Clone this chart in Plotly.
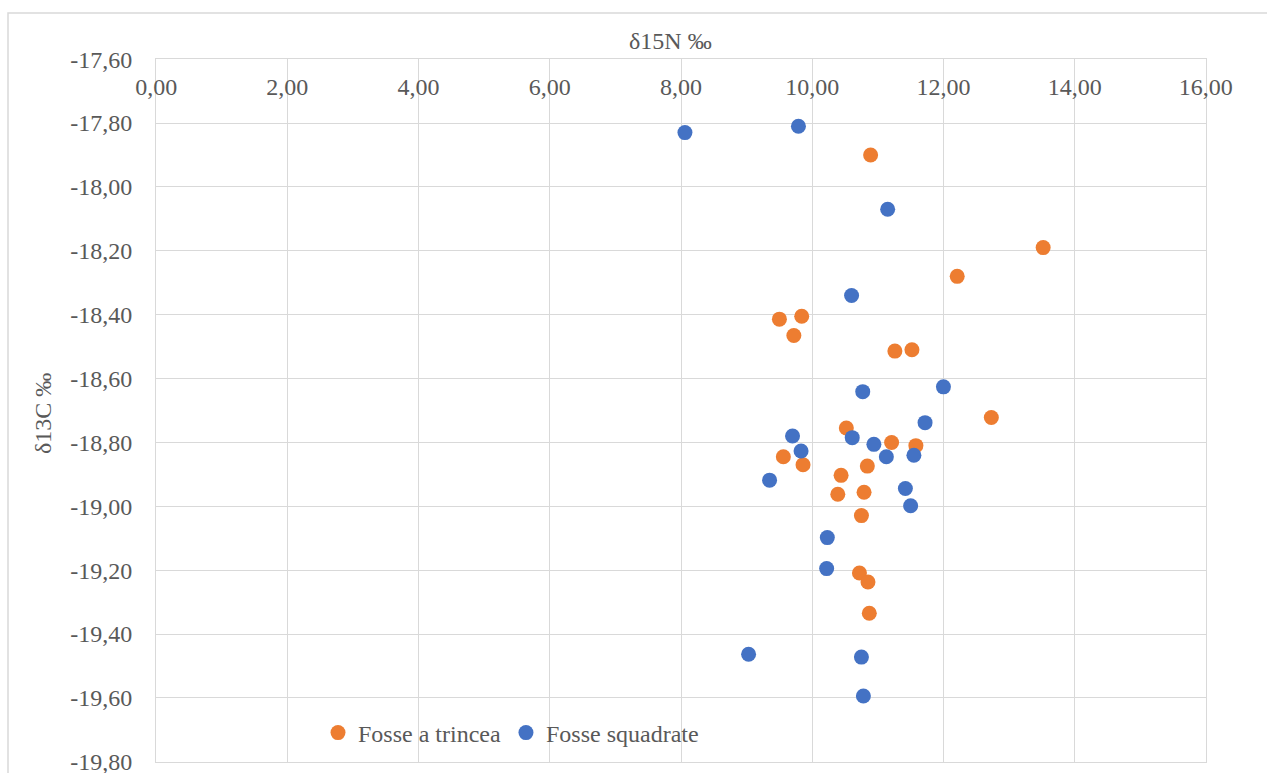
import plotly.graph_objects as go

# Fosse a trincea (orange)
trincea_n = [10.89, 13.52, 12.21, 9.50, 9.84, 9.72, 11.26, 11.52, 12.73, 10.52, 11.21,
             11.58, 9.56, 9.86, 10.84, 10.44, 10.79, 10.39, 10.75, 10.72, 10.85, 10.87]
trincea_c = [-17.90, -18.19, -18.28, -18.414, -18.405, -18.465, -18.514, -18.51, -18.722, -18.755, -18.80,
             -18.81, -18.845, -18.87, -18.874, -18.903, -18.956, -18.962, -19.029, -19.209, -19.237, -19.335]

# Fosse squadrate (blue)
squadrate_n = [8.06, 9.79, 11.15, 10.60, 12.00, 10.77, 11.72, 9.70, 10.61, 10.94, 9.83,
               11.13, 11.55, 9.35, 11.42, 11.50, 10.23, 10.22, 9.03, 10.75, 10.78]
squadrate_c = [-17.83, -17.81, -18.07, -18.34, -18.626, -18.641, -18.738, -18.78, -18.785, -18.806, -18.827,
               -18.845, -18.84, -18.918, -18.944, -18.998, -19.098, -19.195, -19.463, -19.472, -19.594]

x_ticks = [0, 2, 4, 6, 8, 10, 12, 14, 16]
y_ticks = [-17.6, -17.8, -18.0, -18.2, -18.4, -18.6, -18.8, -19.0, -19.2, -19.4, -19.6, -19.8]
x_labels = [f"{v:.2f}".replace(".", ",") for v in x_ticks]
y_labels = [f"{v:.2f}".replace(".", ",") for v in y_ticks]

ORANGE = "#ED7D31"
BLUE = "#4472C4"
GRID = "#D9D9D9"
TXT = "#595959"
FONT = "Liberation Serif"
FS = 24

W, H = 1267, 773
L, R, T, B = 156, 61, 59, 11
pw, ph = W - L - R, H - T - B


def px(xp):
    return (xp - L) / pw


def py(yp):
    return (H - B - yp) / ph


fig = go.Figure()
fig.add_trace(go.Scatter(x=trincea_n, y=trincea_c, mode="markers", name="Fosse a trincea",
                         marker=dict(color=ORANGE, size=15, line=dict(width=0))))
fig.add_trace(go.Scatter(x=squadrate_n, y=squadrate_c, mode="markers", name="Fosse squadrate",
                         marker=dict(color=BLUE, size=15, line=dict(width=0))))

fig.update_layout(
    width=W, height=H,
    margin=dict(l=L, r=R, t=T, b=B),
    paper_bgcolor="white", plot_bgcolor="white",
    font=dict(family=FONT, size=FS, color=TXT),
    showlegend=True,
    legend=dict(orientation="h", x=px(318), y=py(733), xanchor="left", yanchor="middle",
                bgcolor="rgba(0,0,0,0)", font=dict(family=FONT, size=FS, color=TXT),
                itemwidth=30),
    xaxis=dict(range=[-0.002, 16.002], side="top", tickmode="array", tickvals=x_ticks, ticktext=x_labels,
               ticklabelposition="inside", ticklabeloverflow="allow", ticks="", automargin=False,
               showgrid=True, gridcolor=GRID, gridwidth=1,
               showline=True, linecolor=GRID, linewidth=1, mirror=True, zeroline=False,
               tickfont=dict(family=FONT, size=FS, color=TXT), ticklabelstandoff=21),
    yaxis=dict(range=[-19.8005, -17.5995], tickmode="array", tickvals=y_ticks, ticktext=y_labels,
               ticklabeloverflow="allow", ticks="", automargin=False,
               showgrid=True, gridcolor=GRID, gridwidth=1,
               showline=True, linecolor=GRID, linewidth=1, mirror=True, zeroline=False,
               tickfont=dict(family=FONT, size=FS, color=TXT), ticklabelstandoff=18),
    annotations=[
        dict(text="δ15N ‰", xref="paper", yref="paper", x=px(670), y=py(41),
             xanchor="center", yanchor="middle", showarrow=False,
             font=dict(family=FONT, size=FS, color=TXT)),
        dict(text="δ13C ‰", xref="paper", yref="paper", x=px(43), y=py(414),
             xanchor="center", yanchor="middle", showarrow=False, textangle=-90,
             font=dict(family=FONT, size=FS, color=TXT)),
    ],
    shapes=[
        dict(type="rect", xref="paper", yref="paper", x0=px(8), y0=py(13), x1=px(1400), y1=py(900),
             line=dict(color=GRID, width=1.5), layer="below"),
    ],
)

fig.write_html("out.html")
